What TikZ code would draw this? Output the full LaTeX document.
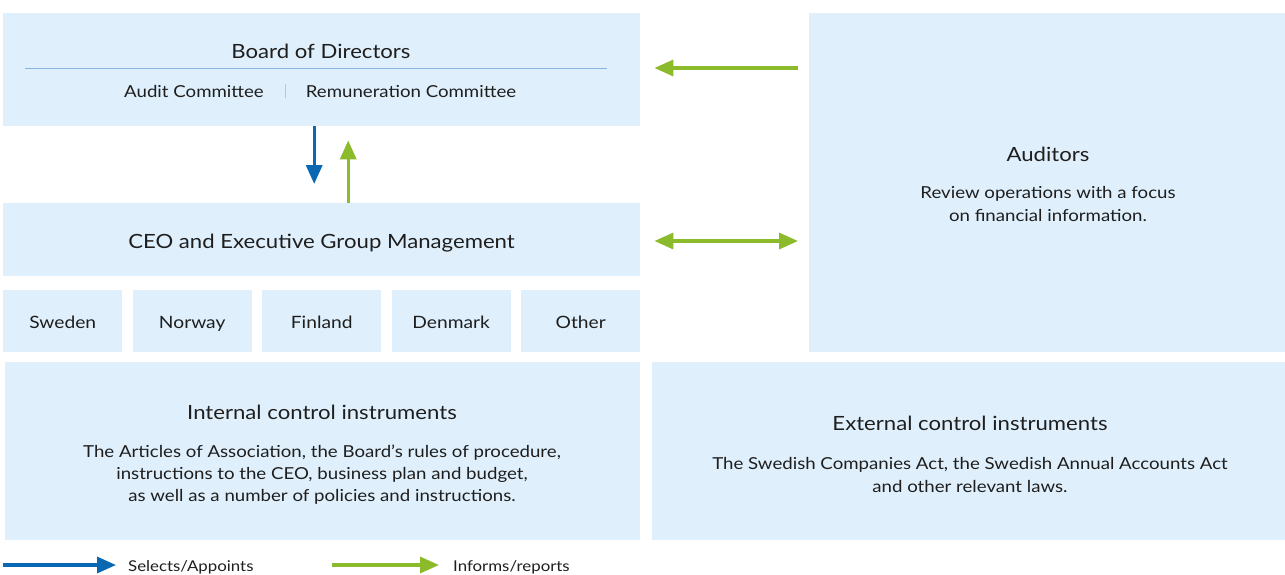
\documentclass[tikz,border=0pt]{standalone}
\usepackage{fontspec}
\setmainfont{Lato}[FakeStretch=1.13]
\usetikzlibrary{arrows.meta}
\definecolor{boxfill}{HTML}{DFF0FC}
\definecolor{selblue}{HTML}{0A68B2}
\definecolor{infgreen}{HTML}{8BBA2A}
\definecolor{rulecol}{HTML}{86B3DE}
\definecolor{ink}{HTML}{1E1E1E}
\tikzset{
  panel/.style={fill=boxfill, draw=none, inner sep=0pt, anchor=north west},
  lbl/.style={text=ink, inner sep=0pt, font=\fontsize{16.5}{22}\selectfont, align=center},
  one/.style={lbl, anchor=base},
  head/.style={text=ink, inner sep=0pt, anchor=base, font=\fontsize{19.6}{24}\selectfont},
  selarrow/.style={draw=selblue, line width=3.4pt, -{Triangle[length=19pt,width=16pt]}},
  infarrow/.style={draw=infgreen, line width=3.4pt, -{Triangle[length=19pt,width=16pt]}},
  infboth/.style={draw=infgreen, line width=3.4pt, {Triangle[length=19pt,width=16pt]}-{Triangle[length=19pt,width=16pt]}},
  legtext/.style={text=ink, inner sep=0pt, anchor=base west, font=\fontsize{14.9}{17}\selectfont},
}
\begin{document}
\begin{tikzpicture}[x=1pt,y=-1pt]
\useasboundingbox (0,0) rectangle (1285,574);

% panels
\node[panel, minimum width=637pt, minimum height=113pt] (board) at (3,13) {};
\node[panel, minimum width=637pt, minimum height=73pt] (ceo) at (3,203) {};
\node[panel, minimum width=476pt, minimum height=339pt] (aud) at (809,13) {};
\node[panel, minimum width=635pt, minimum height=178pt] (int) at (5,362) {};
\node[panel, minimum width=633pt, minimum height=178pt] (ext) at (652,362) {};

% country panels
\foreach \nm/\lb [count=\i from 0] in {swe/Sweden,nor/Norway,fin/Finland,den/Denmark,oth/Other}{
  \node[panel, minimum width=119pt, minimum height=62pt] (\nm) at (3+129.5*\i,290) {};
  \node[one, font=\fontsize{17}{22}\selectfont] (\nm txt) at (\nm.center |- 0,328) {\lb};
}

% board texts
\node[head] (boardtitle) at (321,58) {Board of Directors};
\coordinate (ruleL) at (25,68);
\coordinate (ruleR) at (607,68);
\draw[rulecol, line width=0.8pt] (ruleL) -- (ruleR);
\node[one] (audc) at (194,97) {Audit Committee};
\node[one] (remc) at (411,97) {Remuneration Committee};
\coordinate (sepT) at (285,84);
\coordinate (sepB) at (285,98);
\draw[rulecol!70, line width=0.8pt] (sepT) -- (sepB);

% ceo text
\node[head] (ceotitle) at (321.5,248) {CEO and Executive Group Management};

% auditors
\node[head] (audtitle) at (1048,161) {Auditors};
\node[lbl, font=\fontsize{16.5}{23}\selectfont] (audbody) at (1048,204) {Review operations with a focus\\on financial information.};

% internal control
\node[head] (inttitle) at (322,419) {Internal control instruments};
\node[lbl] (intbody) at (322,475) {The Articles of Association, the Board’s rules of procedure,\\instructions to the CEO, business plan and budget,\\as well as a number of policies and instructions.};

% external control
\node[head] (exttitle) at (970,430) {External control instruments};
\node[lbl, font=\fontsize{16.5}{23}\selectfont] (extbody) at (970,475) {The Swedish Companies Act, the Swedish Annual Accounts Act\\and other relevant laws.};

% connectors
\draw[selarrow, shorten >=19pt] ([xshift=-7.5pt]board.south) -- ([xshift=-7.5pt]ceo.north);
\draw[infarrow, shorten >=14pt] ([xshift=26.5pt]ceo.north) -- ([xshift=26.5pt]board.south);
\draw[infarrow, shorten <=11pt, shorten >=14pt] (aud.west |- 0,68) -- (board.east |- 0,68);
\draw[infboth, shorten <=14pt, shorten >=11pt] (ceo.east |- 0,241) -- (aud.west |- 0,241);

% legend
\coordinate (selA) at (3,565);
\coordinate (selB) at (116,565);
\draw[selarrow] (selA) -- (selB);
\node[legtext] (seltxt) at (128,571) {Selects/Appoints};
\coordinate (infA) at (332,565);
\coordinate (infB) at (439,565);
\draw[infarrow] (infA) -- (infB);
\node[legtext] (inftxt) at (453,571) {Informs/reports};
\end{tikzpicture}
\end{document}
